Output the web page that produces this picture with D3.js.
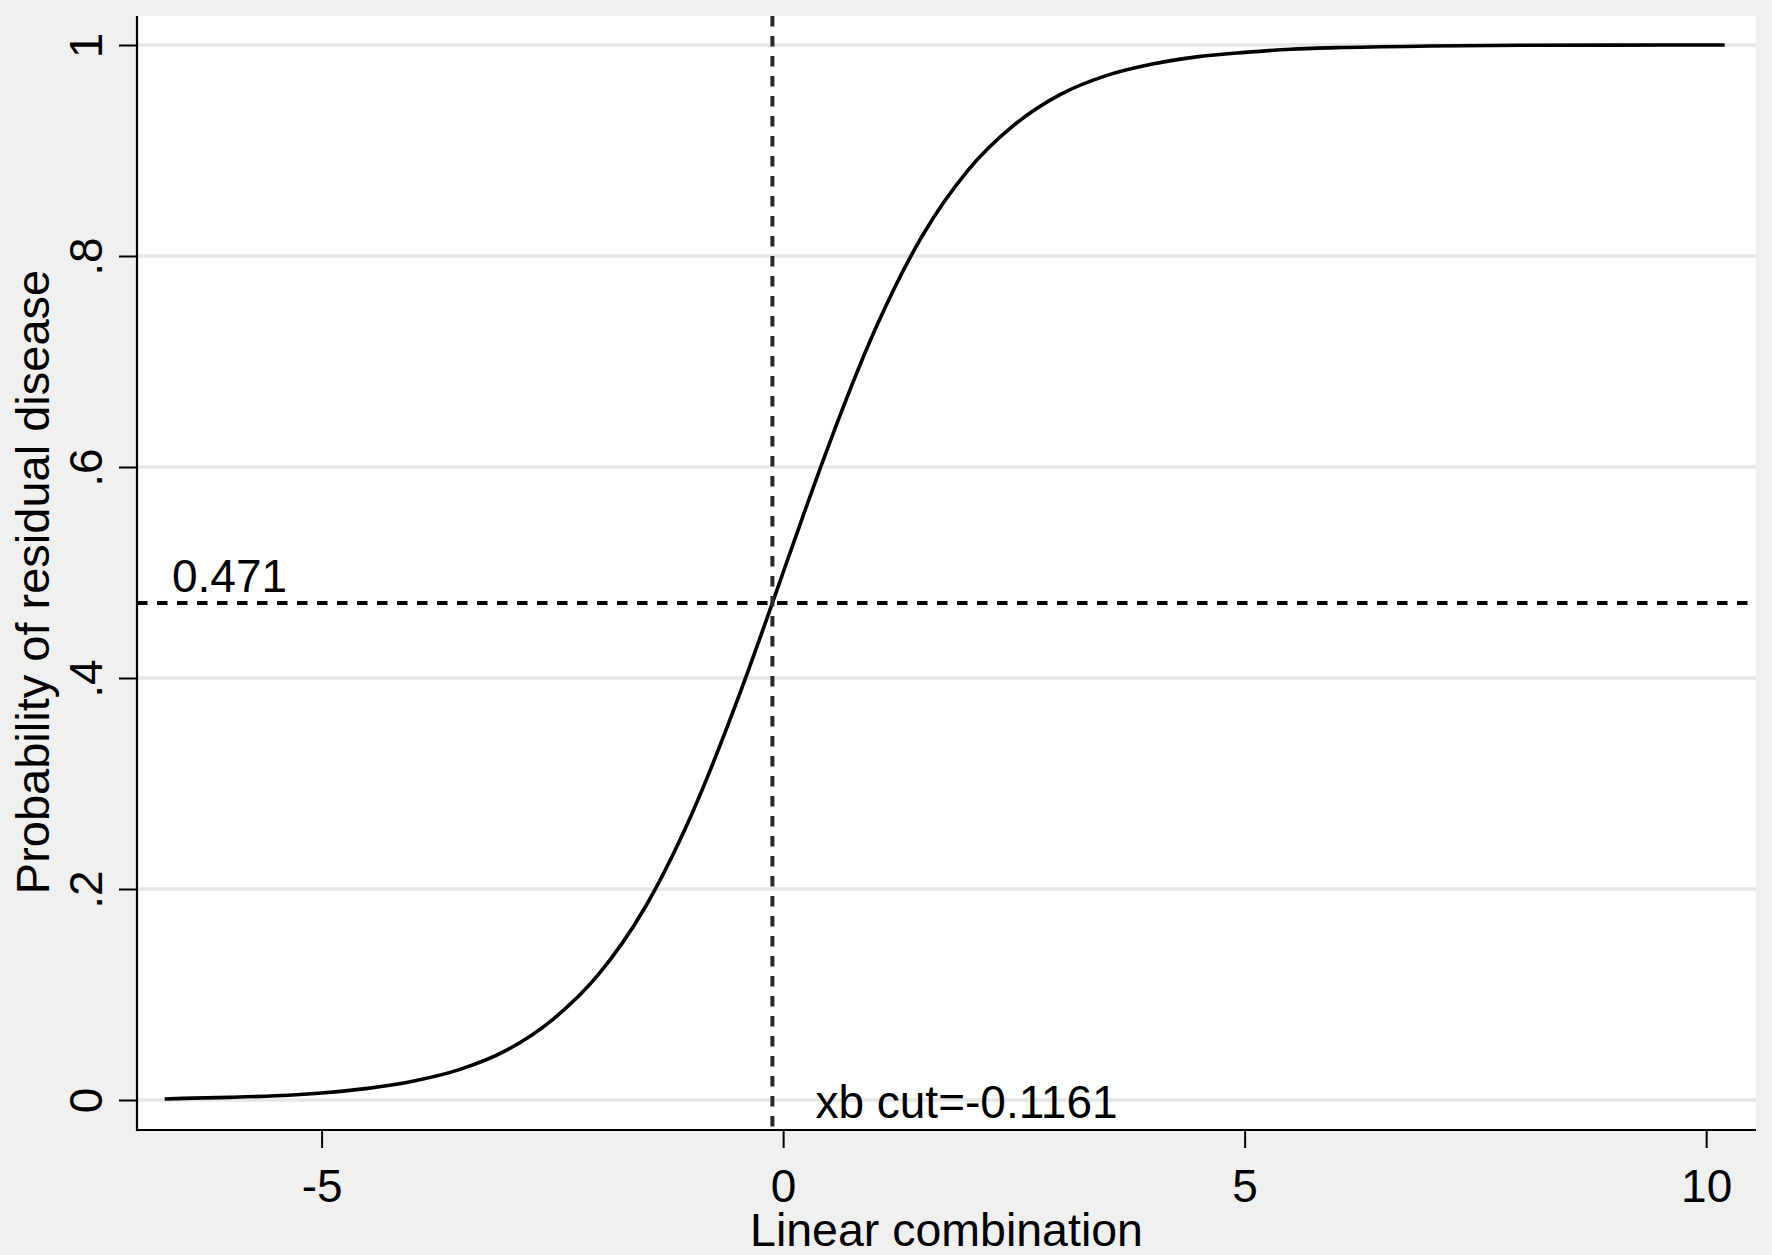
<!DOCTYPE html>
<html>
<head>
<meta charset="utf-8">
<script src="https://cdn.jsdelivr.net/npm/d3@7/dist/d3.min.js"></script>
<style>
  html, body { margin: 0; padding: 0; background: #f0f0f0; }
  svg { display: block; }
  text { font-family: "Liberation Sans", Arial, sans-serif; fill: #000; }
</style>
</head>
<body>
<svg id="chart" width="1772" height="1255"></svg>
<script>
// ---- data ----
const xbValues = [-6.7, -6.5, -6, -5.5, -5, -4.5, -4, -3.5, -3, -2.5, -2, -1.5, -1, -0.5, -0.25, 0, 0.25, 0.5, 1, 1.5, 2, 2.5, 3, 3.5, 4, 4.5, 5, 5.5, 6, 7, 8, 9, 10.2];
const probValues = [0.001, 0.0015, 0.0025, 0.004, 0.0067, 0.011, 0.018, 0.029, 0.047, 0.076, 0.119, 0.182, 0.269, 0.378, 0.438, 0.5, 0.562, 0.622, 0.731, 0.818, 0.881, 0.924, 0.953, 0.971, 0.982, 0.989, 0.993, 0.996, 0.9975, 0.999, 0.9997, 0.9999, 1.0];
const xTicks = [-5, 0, 5, 10];
const xTickLabels = ["-5", "0", "5", "10"];
const yTicks = [0, 0.2, 0.4, 0.6, 0.8, 1];
const yTickLabels = ["0", ".2", ".4", ".6", ".8", "1"];
const cutXb = -0.1161;
const cutProb = 0.471;
const xTitle = "Linear combination";
const yTitle = "Probability of residual disease";
const cutXbLabel = "xb cut=-0.1161";
const cutProbLabel = "0.471";

// ---- layout ----
const plotL = 137, plotR = 1756, plotT = 16, plotB = 1130;
const svg = d3.select("#chart");

const x = d3.scaleLinear().domain([-7, 10.54]).range([plotL, plotR]);
const y = d3.scaleLinear().domain([0, 1]).range([1100, 45]);

// plot region
svg.append("rect").attr("x", plotL).attr("y", plotT)
  .attr("width", plotR - plotL).attr("height", plotB - plotT).attr("fill", "#ffffff");

// gridlines
svg.append("g").selectAll("line").data(yTicks).join("line")
  .attr("x1", plotL).attr("x2", plotR)
  .attr("y1", d => y(d)).attr("y2", d => y(d))
  .attr("stroke", "#e6e6e6").attr("stroke-width", 3.5);

// y axis
const yAxis = d3.axisLeft(y).tickValues(yTicks).tickFormat((d, i) => yTickLabels[i])
  .tickSize(18).tickPadding(0);
const gy = svg.append("g").attr("transform", `translate(${plotL},0)`).call(yAxis);
gy.select(".domain").remove();
gy.selectAll(".tick line").attr("stroke", "#000").attr("stroke-width", 2);
gy.selectAll(".tick text")
  .attr("x", null).attr("dy", null)
  .attr("font-size", 46)
  .attr("text-anchor", "middle")
  .attr("transform", "translate(-35,0) rotate(-90)");

// x axis
const xAxis = d3.axisBottom(x).tickValues(xTicks).tickFormat((d, i) => xTickLabels[i])
  .tickSize(18).tickPadding(0);
const gx = svg.append("g").attr("transform", `translate(0,${plotB})`).call(xAxis);
gx.select(".domain").remove();
gx.selectAll(".tick line").attr("stroke", "#000").attr("stroke-width", 2);
gx.selectAll(".tick text")
  .attr("y", 72).attr("dy", null)
  .attr("font-size", 46)
  .attr("text-anchor", "middle");

// axis lines
svg.append("line").attr("x1", plotL).attr("x2", plotL).attr("y1", plotT).attr("y2", plotB + 1)
  .attr("stroke", "#000").attr("stroke-width", 2.2);
svg.append("line").attr("x1", plotL).attr("x2", plotR).attr("y1", plotB).attr("y2", plotB)
  .attr("stroke", "#000").attr("stroke-width", 2.2);

// curve
const line = d3.line().x((d, i) => x(xbValues[i])).y(d => y(d)).curve(d3.curveMonotoneX);
svg.append("path").datum(probValues).attr("d", line)
  .attr("fill", "none").attr("stroke", "#000").attr("stroke-width", 3.6);

// cut lines
svg.append("line")
  .attr("x1", plotL).attr("x2", plotR)
  .attr("y1", y(cutProb)).attr("y2", y(cutProb))
  .attr("stroke", "#000").attr("stroke-width", 4).attr("stroke-dasharray", "10.5,9.5");
svg.append("line")
  .attr("x1", x(cutXb)).attr("x2", x(cutXb))
  .attr("y1", plotT).attr("y2", plotB)
  .attr("stroke", "#2a2a2a").attr("stroke-width", 4).attr("stroke-dasharray", "10.5,9.5");

// annotations
svg.append("text").attr("x", 172).attr("y", y(cutProb) - 11)
  .attr("font-size", 46).text(cutProbLabel);
svg.append("text").attr("x", x(cutXb) + 43).attr("y", 1118)
  .attr("font-size", 46).text(cutXbLabel);

// titles
svg.append("text").attr("x", (plotL + plotR) / 2).attr("y", 1246)
  .attr("font-size", 46.5).attr("text-anchor", "middle").text(xTitle);
svg.append("text").attr("transform", `translate(49,582) rotate(-90)`)
  .attr("font-size", 47).attr("text-anchor", "middle").text(yTitle);
</script>
</body>
</html>
